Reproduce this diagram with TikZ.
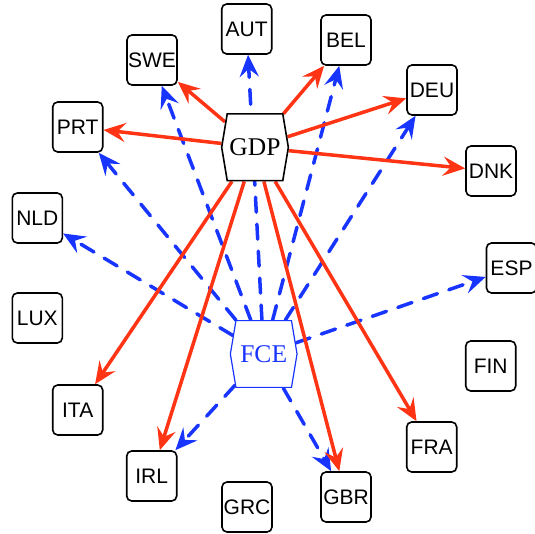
\documentclass[tikz,border=0pt]{standalone}
\usepackage{fontspec}
\setmainfont{Liberation Sans}
\newfontfamily\hexfont{Liberation Serif}
\usetikzlibrary{shapes.symbols,arrows.meta}
\pgfdeclarelayer{edges}
\pgfsetlayers{edges,main}
\definecolor{gdpred}{RGB}{255,52,20}
\definecolor{fceblue}{RGB}{24,52,255}
\tikzset{
  country/.style={draw=black, line width=1.6pt, rounded corners=5pt, fill=white,
    minimum width=50pt, minimum height=50pt, inner sep=0pt, font=\fontsize{21}{21}\selectfont},
  hexnode/.style={shape=signal, signal to=east and west, signal from=nowhere,
    signal pointer angle=161, fill=white, minimum width=66.7pt, minimum height=66.7pt,
    inner sep=0pt, font=\hexfont\fontsize{25.5}{25.5}\selectfont},
  gdpedge/.style={draw=gdpred, line width=3.5pt,
    -{Stealth[length=22pt,width=19pt,inset=8pt]}},
  fceedge/.style={draw=fceblue, line width=3.5pt, line cap=round,
    dash pattern=on 15pt off 12pt,
    -{Stealth[length=22pt,width=19pt,inset=8pt]}},
}
\begin{document}
\begin{tikzpicture}[x=1pt,y=-1pt]
\useasboundingbox (0,0) rectangle (535,534);
% country boxes
\node[country] (AUT) at (246.7,29) {AUT};
\node[country] (BEL) at (346,40) {BEL};
\node[country] (SWE) at (152,60) {SWE};
\node[country] (DEU) at (432,90) {DEU};
\node[country] (PRT) at (77.7,127) {PRT};
\node[country] (DNK) at (491,171) {DNK};
\node[country] (NLD) at (37.3,218) {NLD};
\node[country] (ESP) at (511.5,268) {ESP};
\node[country] (LUX) at (37.3,318) {LUX};
\node[country] (FIN) at (490.7,366) {FIN};
\node[country] (ITA) at (77.7,410) {ITA};
\node[country] (FRA) at (431.7,447) {FRA};
\node[country] (IRL) at (151.7,476) {IRL};
\node[country] (GBR) at (346,497) {GBR};
\node[country] (GRC) at (247,507) {GRC};
% the two hexagonal source nodes
\node[hexnode, draw=black, line width=1.6pt] (GDP) at (255,147.3) {GDP};
\node[hexnode, draw=fceblue, line width=1.2pt, text=fceblue] (FCE) at (263.7,354) {FCE};
\begin{pgfonlayer}{edges}
  \foreach \t in {AUT,SWE,BEL,DEU,PRT,NLD,ESP,IRL,GBR}
    \draw[fceedge] (FCE) -- (\t);
  \foreach \t in {SWE,BEL,DEU,DNK,PRT,ITA,IRL,GBR,FRA}
    \draw[gdpedge] (GDP) -- (\t);
\end{pgfonlayer}
\end{tikzpicture}
\end{document}
